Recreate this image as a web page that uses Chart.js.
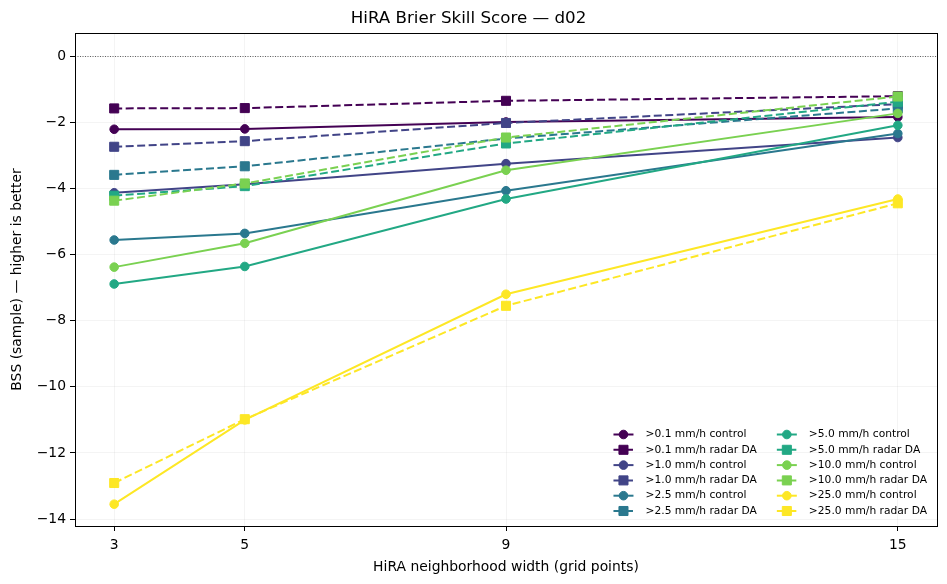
<!DOCTYPE html>
<html>
<head>
<meta charset="utf-8">
<script src="https://cdn.jsdelivr.net/npm/chart.js@4.4.1/dist/chart.umd.min.js"></script>
<style>
  html, body { margin: 0; padding: 0; background: #fff; }
</style>
</head>
<body>
<canvas id="c" width="947" height="584"></canvas>
<script>
// neighborhood widths (x axis)
const widths = [3, 5, 9, 15];
const thresholds = ['>0.1', '>1.0', '>2.5', '>5.0', '>10.0', '>25.0'];
const colors = ['#440154', '#414487', '#2a788e', '#22a884', '#7ad151', '#fde725'];
const yTicks = [0, -2, -4, -6, -8, -10, -12, -14];

// BSS per threshold, one value per width
const controlBss = [
  [-2.21, -2.20, -1.99, -1.84],
  [-4.13, -3.87, -3.25, -2.46],
  [-5.56, -5.36, -4.07, -2.34],
  [-6.89, -6.36, -4.32, -2.09],
  [-6.38, -5.66, -3.45, -1.73],
  [-13.55, -11.00, -7.20, -4.32]
];
const radarBss = [
  [-1.58, -1.57, -1.35, -1.21],
  [-2.74, -2.57, -2.02, -1.45],
  [-3.59, -3.33, -2.49, -1.58],
  [-4.22, -3.93, -2.64, -1.38],
  [-4.37, -3.85, -2.46, -1.22],
  [-12.91, -10.98, -7.55, -4.45]
];

Chart.defaults.font.family = '"DejaVu Sans", sans-serif';
Chart.defaults.color = '#000';

const datasets = [];
thresholds.forEach((t, i) => {
  datasets.push({
    label: t + ' mm/h control',
    data: widths.map((w, j) => ({ x: w, y: controlBss[i][j] })),
    borderColor: colors[i],
    backgroundColor: colors[i],
    borderWidth: 2,
    pointStyle: 'circle',
    pointRadius: 4.3,
    pointHoverRadius: 4.3,
    pointBorderWidth: 1,
    borderDash: []
  });
  datasets.push({
    label: t + ' mm/h radar DA',
    data: widths.map((w, j) => ({ x: w, y: radarBss[i][j] })),
    borderColor: colors[i],
    backgroundColor: colors[i],
    borderWidth: 2,
    pointStyle: 'rect',
    pointRadius: 6.4,
    pointHoverRadius: 6.4,
    pointBorderWidth: 1,
    borderDash: [8, 3.5]
  });
});
// later series on top, like the original
datasets.forEach((d, k) => { d.order = datasets.length - k; });

// dotted zero line + axes frame
const framePlugin = {
  id: 'frame',
  beforeDatasetsDraw(chart) {
    const ctx = chart.ctx, a = chart.chartArea;
    const y0 = Math.round(chart.scales.y.getPixelForValue(0)) + 0.5;
    ctx.save();
    ctx.strokeStyle = 'rgba(0,0,0,0.75)';
    ctx.lineWidth = 0.8;
    ctx.setLineDash([1, 1.5]);
    ctx.beginPath();
    ctx.moveTo(a.left, y0);
    ctx.lineTo(a.right, y0);
    ctx.stroke();
    ctx.restore();
  },
  afterDatasetsDraw(chart) {
    const ctx = chart.ctx, a = chart.chartArea;
    ctx.save();
    ctx.strokeStyle = '#000';
    ctx.lineWidth = 1;
    ctx.strokeRect(Math.round(a.left) + 0.5, Math.round(a.top) + 0.5,
      Math.round(a.right - a.left), Math.round(a.bottom - a.top));
    ctx.restore();
  }
};

// two-column legend in lower right of the plot
const legendPlugin = {
  id: 'innerLegend',
  afterDraw(chart) {
    const ctx = chart.ctx, a = chart.chartArea;
    const ds = chart.data.datasets;
    const rowH = 15.3, handleLen = 20, textGap = 12, colGap = 20;
    ctx.save();
    ctx.font = '10.7px "DejaVu Sans"';
    const cols = [ds.slice(0, 6), ds.slice(6)];
    const colW = cols.map(c => Math.max(...c.map(d => ctx.measureText(d.label).width)));
    const x2 = a.right - 10 - colW[1] - textGap - handleLen;
    const x1 = x2 - colGap - colW[0] - textGap - handleLen;
    const yLast = a.bottom - 15;
    cols.forEach((c, ci) => {
      const hx = ci === 0 ? x1 : x2;
      c.forEach((d, ri) => {
        const y = yLast - (5 - ri) * rowH;
        ctx.strokeStyle = d.borderColor;
        ctx.fillStyle = d.backgroundColor;
        ctx.lineWidth = 2;
        ctx.setLineDash(d.borderDash);
        ctx.beginPath();
        ctx.moveTo(hx, y);
        ctx.lineTo(hx + handleLen, y);
        ctx.stroke();
        ctx.setLineDash([]);
        ctx.lineWidth = 1;
        Chart.helpers.drawPoint(ctx, {
          pointStyle: d.pointStyle, radius: d.pointRadius, rotation: 0, borderWidth: 1
        }, hx + handleLen / 2, y);
        ctx.fillStyle = '#000';
        ctx.textBaseline = 'middle';
        ctx.textAlign = 'left';
        ctx.fillText(d.label, hx + handleLen + textGap, y);
      });
    });
    ctx.restore();
  }
};

const minus = v => (v < 0 ? '\u2212' + Math.abs(v) : String(v));

new Chart(document.getElementById('c'), {
  type: 'line',
  data: { datasets },
  plugins: [framePlugin, legendPlugin],
  options: {
    responsive: false,
    animation: false,
    layout: { padding: { left: 0, right: 10, top: 0, bottom: 0 } },
    plugins: {
      legend: { display: false },
      tooltip: { enabled: false },
      title: {
        display: true,
        text: 'HiRA Brier Skill Score — d02',
        font: { size: 16.7, weight: 'normal' },
        padding: { top: 9, bottom: 4 }
      }
    },
    scales: {
      x: {
        type: 'linear',
        min: 2.4,
        max: 15.6,
        afterBuildTicks: s => { s.ticks = widths.map(v => ({ value: v })); },
        afterFit: s => { s.height = 58; },
        ticks: { font: { size: 13.9 }, padding: 6, maxRotation: 0 },
        grid: { color: 'rgba(0,0,0,0.045)', tickColor: '#000', tickLength: 5, tickWidth: 1 },
        border: { display: false },
        title: {
          display: true,
          text: 'HiRA neighborhood width (grid points)',
          font: { size: 13.9 },
          padding: { top: 4, bottom: 8 }
        }
      },
      y: {
        type: 'linear',
        min: -14.21,
        max: 0.7,
        afterBuildTicks: s => { s.ticks = yTicks.map(v => ({ value: v })); },
        afterFit: s => { s.width = 75; },
        ticks: { font: { size: 13.9 }, padding: 4, callback: minus },
        grid: { color: 'rgba(0,0,0,0.045)', tickColor: '#000', tickLength: 5, tickWidth: 1 },
        border: { display: false },
        title: {
          display: true,
          text: 'BSS (sample) — higher is better',
          font: { size: 13.9 },
          padding: { top: 9, bottom: 0 }
        }
      }
    }
  }
});
</script>
</body>
</html>
